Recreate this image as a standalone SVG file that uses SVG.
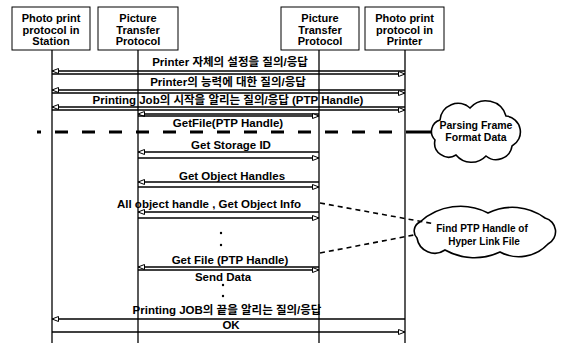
<svg xmlns="http://www.w3.org/2000/svg" width="566" height="343" viewBox="0 0 566 343">
<style>
  text { font-family: "Liberation Sans", Arial, "Noto Sans CJK KR", sans-serif; font-weight: bold; fill: #000; text-anchor: middle; }
  .box { fill: #fff; stroke: #000; stroke-width: 1; }
  .bt { font-size: 11px; }
  .mt { font-size: 11.5px; }
  .ct { font-size: 10.5px; }
  .life { stroke: #000; stroke-width: 1.3; fill: none; }
  .msg { stroke: #000; stroke-width: 1.3; fill: none; marker-end: url(#ah); }
  .cloud { fill: #fff; stroke: #000; stroke-width: 1.6; }
  .thin-dash { stroke: #000; stroke-width: 1.6; stroke-dasharray: 5 4; fill: none; }
  .thick-dash { stroke: #000; stroke-width: 3; stroke-dasharray: 13 14; fill: none; }
</style>
<defs>
  <marker id="ah" markerUnits="userSpaceOnUse" markerWidth="9" markerHeight="8" refX="7" refY="3" orient="auto">
    <path d="M0.5,0.5 L7,3 L0.5,5.5 Z" fill="#fff" stroke="#000" stroke-width="1"/>
  </marker>
</defs>
<rect width="566" height="343" fill="#fff"/>

<g id="lifelines">
  <line class="life" x1="52" y1="50" x2="52" y2="343"/>
  <line class="life" x1="138" y1="50" x2="138" y2="343"/>
  <line class="life" x1="319" y1="50" x2="319" y2="343"/>
  <line class="life" x1="405" y1="50" x2="405" y2="343"/>
</g>

<g id="node-station">
  <rect class="box" x="12" y="7" width="78" height="43"/>
  <text class="bt" x="51" y="22">Photo print</text>
  <text class="bt" x="51" y="34">protocol in</text>
  <text class="bt" x="51" y="45">Station</text>
</g>
<g id="node-ptp-left">
  <rect class="box" x="98" y="7" width="80" height="43"/>
  <text class="bt" x="138" y="22">Picture</text>
  <text class="bt" x="138" y="34">Transfer</text>
  <text class="bt" x="138" y="45">Protocol</text>
</g>
<g id="node-ptp-right">
  <rect class="box" x="281" y="7" width="78" height="43"/>
  <text class="bt" x="320" y="22">Picture</text>
  <text class="bt" x="320" y="34">Transfer</text>
  <text class="bt" x="320" y="45">Protocol</text>
</g>
<g id="node-printer">
  <rect class="box" x="365" y="7" width="79" height="43"/>
  <text class="bt" x="404.5" y="22">Photo print</text>
  <text class="bt" x="404.5" y="34">protocol in</text>
  <text class="bt" x="404.5" y="45">Printer</text>
</g>

<g id="node-parsing">
  <path class="cloud" d="M440,120 A18,18 0 0 1 470,108 A21,21 0 0 1 506,116 A16,16 0 0 1 512,146 A16,16 0 0 1 486,156 A20,20 0 0 1 456,155 A14,14 0 0 1 435,140 A12,12 0 0 1 440,120 Z"/>
  <text class="ct" x="476" y="129">Parsing Frame</text>
  <text class="ct" x="476" y="141">Format Data</text>
</g>
<g id="node-find">
  <path class="cloud" d="M420,222 A60,60 0 0 1 488,213 A55,55 0 0 1 545,218 A14,14 0 0 1 548,244 A40,40 0 0 1 500,252 A60,60 0 0 1 445,250 A18,18 0 0 1 417,238 A10,10 0 0 1 420,222 Z"/>
  <text class="ct" x="482" y="232" style="font-size:10px">Find PTP Handle of</text>
  <text class="ct" x="484" y="245" style="font-size:10px">Hyper Link File</text>
</g>

<g id="connectors">
  <!-- row 1 -->
  <line class="msg" x1="405" y1="71" x2="52" y2="71"/>
  <line class="msg" x1="52" y1="74" x2="405" y2="74"/>
  <!-- row 2 -->
  <line class="msg" x1="405" y1="90" x2="52" y2="90"/>
  <line class="msg" x1="52" y1="93" x2="405" y2="93"/>
  <!-- row 3 -->
  <line class="msg" x1="405" y1="107" x2="52" y2="107"/>
  <line class="msg" x1="52" y1="110" x2="405" y2="110"/>
  <!-- GetFile -->
  <line class="msg" x1="319" y1="114" x2="138" y2="114"/>
  <line class="msg" x1="138" y1="116" x2="319" y2="116"/>
  <!-- phase separator -->
  <rect x="37" y="130.5" width="4" height="3"/>
  <line class="thick-dash" x1="55" y1="132" x2="412" y2="132"/>
  <line x1="412" y1="132" x2="432" y2="132" stroke="#000" stroke-width="3"/>
  <!-- Get Storage ID -->
  <line class="msg" x1="319" y1="152" x2="138" y2="152"/>
  <line class="msg" x1="138" y1="158" x2="319" y2="158"/>
  <!-- Get Object Handles -->
  <line class="msg" x1="319" y1="182" x2="138" y2="182"/>
  <line class="msg" x1="138" y1="187" x2="319" y2="187"/>
  <!-- All object handle -->
  <line class="msg" x1="319" y1="212" x2="138" y2="212"/>
  <line class="msg" x1="138" y1="218" x2="319" y2="218"/>
  <!-- Get File -->
  <line class="msg" x1="319" y1="267" x2="138" y2="267"/>
  <line class="msg" x1="138" y1="270" x2="319" y2="270"/>
  <!-- end job -->
  <line class="msg" x1="405" y1="319" x2="52" y2="319"/>
  <line class="msg" x1="52" y1="332" x2="405" y2="332"/>
  <!-- note links -->
  <line class="thin-dash" x1="320" y1="203" x2="435" y2="224"/>
  <line class="thin-dash" x1="320" y1="253" x2="414" y2="235"/>
  <!-- ellipsis dots -->
  <circle cx="221" cy="233" r="1.2"/>
  <circle cx="221" cy="245" r="1.2"/>
  <circle cx="223" cy="285" r="1.2"/>
  <circle cx="223" cy="296" r="1.2"/>
</g>

<g id="labels">
  <text class="mt" x="230" y="66">Printer 자체의 설정을 질의/응답</text>
  <text class="mt" x="228" y="86">Printer의 능력에 대한 질의/응답</text>
  <text class="mt" x="228" y="104">Printing Job의 시작을 알리는 질의/응답 (PTP Handle)</text>
  <text class="mt" x="228" y="127">GetFile(PTP Handle)</text>
  <text class="mt" x="231" y="149">Get Storage ID</text>
  <text class="mt" x="232" y="180">Get Object Handles</text>
  <text class="mt" x="209" y="208">All object handle , Get Object Info</text>
  <text class="mt" x="230" y="264">Get File (PTP Handle)</text>
  <text class="mt" x="223" y="281">Send Data</text>
  <text class="mt" x="227" y="314">Printing JOB의 끝을 알리는 질의/응답</text>
  <text class="mt" x="231" y="329">OK</text>
</g>
</svg>
